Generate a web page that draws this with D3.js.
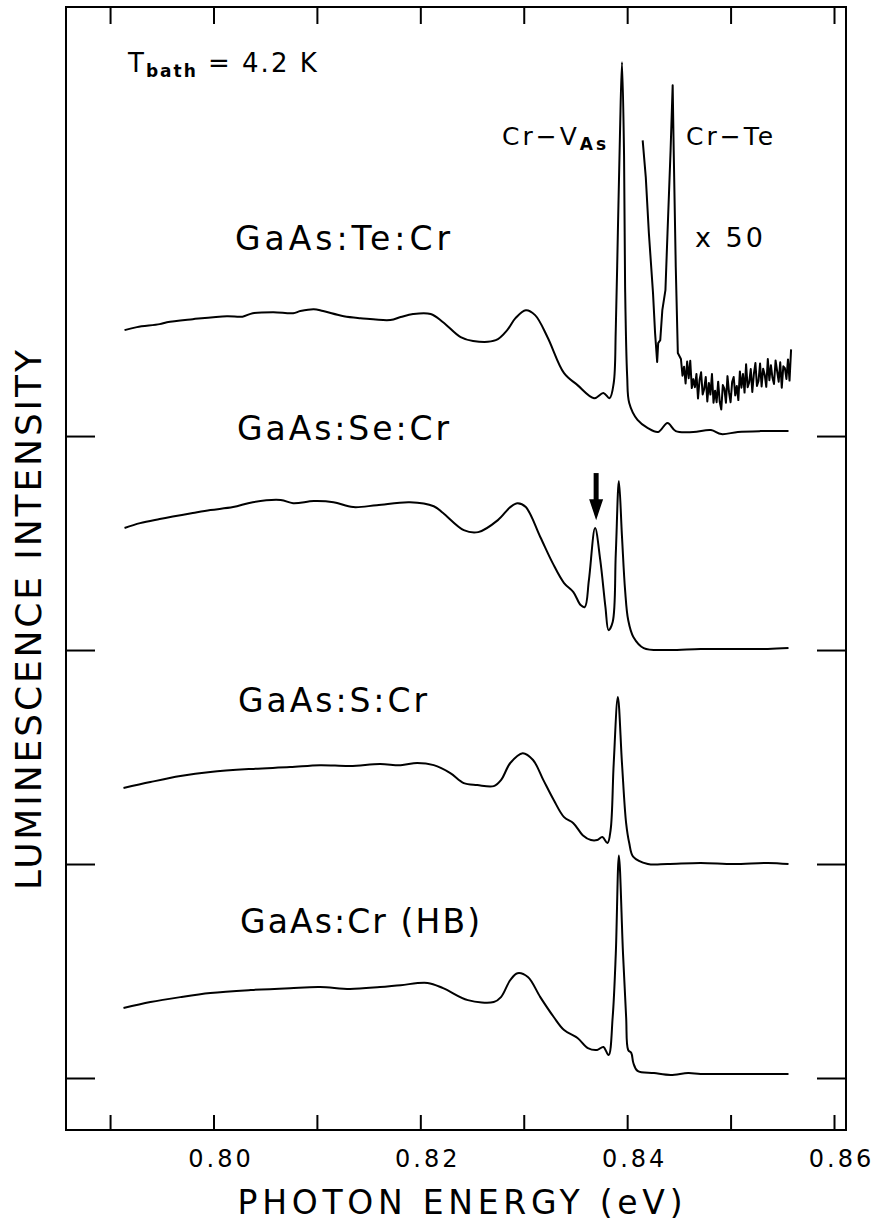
<!DOCTYPE html>
<html>
<head>
<meta charset="utf-8">
<script src="https://cdn.jsdelivr.net/npm/d3@7"></script>
<style>
  body { margin: 0; background: #fff; }
  svg { display: block; }
  text { font-family: "DejaVu Sans", sans-serif; fill: #000; }
  .curve { fill: none; stroke: #000; stroke-width: 2; stroke-linejoin: round; }
  .axis path.domain { display: none; }
  .axis line { stroke: #000; stroke-width: 2; }
  .axis text { font-size: 24px; letter-spacing: 3px; font-family: "DejaVu Sans", sans-serif; }
</style>
</head>
<body>
<svg id="chart"></svg>
<script>
const WIDTH = 880;
const HEIGHT = 1225;
const MARGIN = { top: 7, right: 34, bottom: 95, left: 66 };

// photon energy (eV) on x, luminescence in arb. units on y
const X_DOMAIN = [0.78574, 0.86116];
const Y_DOMAIN = [-24.3, 500.5];
const X_TICKS = [0.79, 0.80, 0.81, 0.82, 0.83, 0.84, 0.85, 0.86];
const X_TICK_LABELS = ['0.80', '0.82', '0.84', '0.86'];

// vertical offset of each spectrum (its zero line)
const SAMPLES = ['GaAs:Te:Cr', 'GaAs:Se:Cr', 'GaAs:S:Cr', 'GaAs:Cr (HB)'];
const OFFSETS = [300, 200, 100, 0];

// [energy eV, intensity a.u. above zero line]
const teData = [
  [0.7914, 49.5], [0.7926, 50.9], [0.7948, 52.3], [0.7955, 53.2], [0.7980, 54.6],
  [0.8013, 56.0], [0.8028, 55.8], [0.8038, 57.4], [0.8058, 57.9], [0.8077, 57.4],
  [0.8084, 58.4], [0.8097, 59.3], [0.8106, 58.4], [0.8126, 56.0], [0.8142, 55.1],
  [0.8171, 54.2], [0.8181, 55.6], [0.8193, 57.0], [0.8210, 57.0], [0.8222, 53.2],
  [0.8239, 46.2], [0.8251, 44.4], [0.8273, 44.8], [0.8284, 49.5], [0.8292, 55.1],
  [0.8302, 58.8], [0.8311, 56.5], [0.8323, 46.2], [0.8339, 29.4], [0.8352, 23.8],
  [0.8368, 17.7], [0.8377, 20.1], [0.8383, 17.7], [0.8387, 24.8], [0.8389, 50.0],
  [0.8391, 95.0], [0.8393, 140.0], [0.8395, 174.7], [0.8397, 131.0], [0.8398, 70.0],
  [0.8400, 28.0], [0.8402, 15.4], [0.8410, 7.5], [0.8420, 3.7], [0.8430, 1.9],
  [0.8439, 6.1], [0.8447, 2.3], [0.8464, 1.9], [0.8481, 2.8], [0.8491, 0.9],
  [0.8507, 1.9], [0.8529, 2.3], [0.8556, 2.3]
];

// Cr-Te region of the Te doped sample, magnified x 50
const teX50Data = [
  [0.8415, 138.2], [0.8418, 121.0], [0.8421, 94.8], [0.8425, 66.8], [0.8427, 48.1],
  [0.8429, 34.6], [0.8430, 43.4], [0.8432, 44.8], [0.8434, 58.8], [0.8437, 68.2],
  [0.8439, 94.8], [0.8442, 133.6], [0.8444, 163.9], [0.8445, 133.6], [0.8447, 78.9],
  [0.8449, 38.8], [0.84520, 36.0], [0.84535, 28.2], [0.84550, 32.4], [0.84565, 24.6],
  [0.84580, 34.8], [0.84595, 27.0], [0.84610, 35.2], [0.84625, 22.4], [0.84640, 26.6],
  [0.84655, 22.8], [0.84670, 29.0], [0.84685, 17.6], [0.84700, 26.2], [0.84715, 29.8],
  [0.84730, 19.4], [0.84745, 22.0], [0.84760, 27.6], [0.84775, 16.2], [0.84790, 24.8],
  [0.84805, 19.4], [0.84820, 29.0], [0.84835, 15.6], [0.84850, 21.2], [0.84865, 15.8],
  [0.84880, 25.4], [0.84895, 16.0], [0.84910, 12.4], [0.84925, 23.8], [0.84940, 22.2],
  [0.84955, 15.6], [0.84970, 28.0], [0.84985, 20.4], [0.85000, 15.8], [0.85015, 25.2],
  [0.85030, 27.6], [0.85045, 19.0], [0.85060, 23.4], [0.85075, 16.8], [0.85090, 30.2],
  [0.85105, 22.6], [0.85120, 29.0], [0.85135, 20.3], [0.85150, 33.5], [0.85165, 22.8],
  [0.85180, 25.1], [0.85195, 31.3], [0.85210, 20.6], [0.85225, 28.9], [0.85240, 34.1],
  [0.85255, 23.4], [0.85270, 25.7], [0.85285, 33.9], [0.85300, 23.2], [0.85315, 31.5],
  [0.85330, 28.7], [0.85345, 23.0], [0.85360, 36.0], [0.85375, 26.1], [0.85390, 33.1],
  [0.85405, 27.2], [0.85420, 24.3], [0.85435, 35.3], [0.85450, 30.4], [0.85465, 25.4],
  [0.85480, 34.5], [0.85495, 22.6], [0.85510, 32.6], [0.85525, 31.7], [0.85540, 26.7],
  [0.85555, 35.8], [0.85570, 25.9], [0.85585, 40.5]
];

const seData = [
  [0.7914, 57.0], [0.7929, 59.3], [0.7948, 61.2], [0.7980, 64.0], [0.7997, 65.4],
  [0.8019, 66.8], [0.8038, 69.1], [0.8065, 70.1], [0.8077, 68.6], [0.8097, 69.6],
  [0.8116, 69.1], [0.8135, 66.8], [0.8158, 67.7], [0.8190, 69.1], [0.8213, 67.2],
  [0.8222, 64.0], [0.8242, 56.0], [0.8256, 55.1], [0.8275, 60.7], [0.8287, 66.8],
  [0.8294, 68.6], [0.8302, 66.8], [0.8316, 52.8], [0.8328, 40.6], [0.8339, 31.3],
  [0.8348, 27.1], [0.8355, 21.0], [0.8359, 20.1], [0.8363, 32.7], [0.8369, 57.0],
  [0.8374, 42.0], [0.8379, 20.1], [0.8382, 9.3], [0.8386, 13.1], [0.8389, 45.0],
  [0.8392, 79.0], [0.8395, 53.0], [0.8398, 28.0], [0.8401, 14.0], [0.8406, 6.1],
  [0.8416, 0.9], [0.8439, 0.0], [0.8471, 0.5], [0.8503, 0.5], [0.8536, 0.5],
  [0.8556, 0.9]
];

const sData = [
  [0.7913, 35.5], [0.7939, 38.3], [0.7968, 41.1], [0.7997, 43.0], [0.8036, 44.4],
  [0.8074, 45.3], [0.8103, 46.2], [0.8132, 45.8], [0.8161, 46.7], [0.8181, 46.2],
  [0.8197, 47.2], [0.8213, 46.2], [0.8229, 42.5], [0.8242, 37.8], [0.8255, 36.9],
  [0.8271, 36.4], [0.8278, 39.2], [0.8287, 47.2], [0.8299, 51.8], [0.8309, 48.6],
  [0.8319, 39.2], [0.8329, 29.9], [0.8339, 21.9], [0.8348, 19.1], [0.8357, 13.5],
  [0.8365, 11.2], [0.8371, 11.2], [0.8376, 12.6], [0.8381, 9.8], [0.8384, 15.9],
  [0.8387, 47.0], [0.8391, 78.0], [0.8395, 47.0], [0.8399, 19.1], [0.8402, 9.8],
  [0.8406, 3.3], [0.8420, 0.0], [0.8439, 0.0], [0.8471, 0.5], [0.8503, 0.0],
  [0.8536, 0.5], [0.8556, 0.0]
];

const hbData = [
  [0.7913, 32.7], [0.7939, 35.5], [0.7968, 37.8], [0.7997, 39.7], [0.8036, 41.1],
  [0.8074, 42.0], [0.8103, 42.5], [0.8132, 41.6], [0.8161, 42.5], [0.8181, 43.4],
  [0.8207, 44.4], [0.8222, 42.0], [0.8246, 36.4], [0.8271, 35.5], [0.8278, 37.8],
  [0.8287, 45.8], [0.8294, 49.0], [0.8304, 47.2], [0.8316, 37.8], [0.8329, 28.5],
  [0.8339, 22.4], [0.8352, 18.7], [0.8362, 14.0], [0.8371, 13.1], [0.8377, 14.5],
  [0.8382, 10.7], [0.8386, 28.5], [0.8389, 58.0], [0.8392, 104.0], [0.8396, 58.0],
  [0.8399, 28.5], [0.8401, 13.1], [0.8404, 11.7], [0.8406, 7.0], [0.8410, 3.3],
  [0.8426, 2.3], [0.8442, 1.4], [0.8459, 2.3], [0.8471, 1.9], [0.8503, 1.9],
  [0.8536, 1.9], [0.8556, 1.9]
];

// arrow over the extra Se line: energy, tail and tip heights above the Se zero line
const ARROW = { energy: 0.8370, tail: 82.7, tip: 60.7 };

const width = WIDTH - MARGIN.left - MARGIN.right;
const height = HEIGHT - MARGIN.top - MARGIN.bottom;

const $svg = d3.select('#chart').attr('width', WIDTH).attr('height', HEIGHT);
const $g = $svg.append('g').attr('transform', `translate(${MARGIN.left},${MARGIN.top})`);

const x = d3.scaleLinear().domain(X_DOMAIN).range([0, width]);
const y = d3.scaleLinear().domain(Y_DOMAIN).range([height, 0]);

// AXES
$g.append('g')
  .attr('class', 'axis')
  .attr('transform', `translate(0,${height})`)
  .call(d3.axisBottom(x)
    .tickValues(X_TICKS)
    .tickSize(-15)
    .tickPadding(20)
    .tickFormat(d => {
      const s = d3.format('.2f')(d);
      return X_TICK_LABELS.includes(s) ? s : '';
    }))
  .selectAll('text')
  .attr('dx', 7);

$g.append('g')
  .attr('class', 'axis')
  .call(d3.axisTop(x).tickValues(X_TICKS).tickSize(-17).tickFormat(''));

$g.append('g')
  .attr('class', 'axis')
  .call(d3.axisLeft(y).tickValues(OFFSETS).tickSize(-29).tickFormat(''));

$g.append('g')
  .attr('class', 'axis')
  .attr('transform', `translate(${width},0)`)
  .call(d3.axisRight(y).tickValues(OFFSETS).tickSize(-29).tickFormat(''));

$g.append('rect')
  .attr('width', width)
  .attr('height', height)
  .attr('fill', 'none')
  .attr('stroke', '#000')
  .attr('stroke-width', 2);

// SPECTRA
function lineFor(offset, curve) {
  return d3.line()
    .x(d => x(d[0]))
    .y(d => y(d[1] + offset))
    .curve(curve);
}

const smooth = d3.curveCatmullRom.alpha(0.5);
const spectra = [teData, seData, sData, hbData];

spectra.forEach((data, i) => {
  $g.append('path')
    .attr('class', 'curve')
    .attr('d', lineFor(OFFSETS[i], smooth)(data));
});

$g.append('path')
  .attr('class', 'curve')
  .attr('stroke-width', 2.2)
  .attr('d', lineFor(OFFSETS[0], d3.curveLinear)(teX50Data));

// arrow
const ax = x(ARROW.energy);
const tipY = y(OFFSETS[1] + ARROW.tip);
const tailY = y(OFFSETS[1] + ARROW.tail);
const HEAD = 21;
$g.append('line')
  .attr('x1', ax).attr('x2', ax)
  .attr('y1', tailY).attr('y2', tipY - HEAD + 2)
  .attr('stroke', '#000')
  .attr('stroke-width', 5);
$g.append('path')
  .attr('d', `M${ax - 7},${tipY - HEAD}L${ax + 7},${tipY - HEAD}L${ax},${tipY}Z`)
  .attr('fill', '#000');

// LABELS
const sampleLabelPos = [
  { x: 235, y: 250, len: 215 },
  { x: 237, y: 440, len: 212 },
  { x: 238, y: 712, len: 189 },
  { x: 240, y: 933, len: 240 }
];

$svg.selectAll('text.sample')
  .data(SAMPLES)
  .enter()
  .append('text')
  .attr('class', 'sample')
  .attr('x', (d, i) => sampleLabelPos[i].x)
  .attr('y', (d, i) => sampleLabelPos[i].y)
  .attr('font-size', 33)
  .attr('textLength', (d, i) => sampleLabelPos[i].len)
  .attr('lengthAdjust', 'spacing')
  .text(d => d);

// T bath
const $tb = $svg.append('text')
  .attr('x', 128)
  .attr('y', 72)
  .attr('font-size', 26)
  .attr('letter-spacing', 2);
$tb.append('tspan').text('T');
$tb.append('tspan').attr('font-size', 17).attr('font-weight', 'bold').attr('dy', 5).text('bath');
$tb.append('tspan').attr('dy', -5).text(' = 4.2 K');

// Cr-VAs
const $cv = $svg.append('text')
  .attr('x', 502)
  .attr('y', 145)
  .attr('font-size', 25)
  .attr('letter-spacing', 3);
$cv.append('tspan').text('Cr\u2212V');
$cv.append('tspan').attr('font-size', 17).attr('font-weight', 'bold').attr('dy', 5).text('As');

$svg.append('text')
  .attr('x', 686)
  .attr('y', 145)
  .attr('font-size', 25)
  .attr('letter-spacing', 3)
  .text('Cr\u2212Te');

$svg.append('text')
  .attr('x', 695)
  .attr('y', 247)
  .attr('font-size', 27)
  .attr('letter-spacing', 3)
  .text('x 50');

// axis titles
$svg.append('text')
  .attr('x', 460)
  .attr('y', 1214)
  .attr('text-anchor', 'middle')
  .attr('font-size', 33)
  .attr('textLength', 445)
  .attr('lengthAdjust', 'spacing')
  .text('PHOTON  ENERGY  (eV)');

$svg.append('text')
  .attr('transform', 'translate(41,620) rotate(-90)')
  .attr('text-anchor', 'middle')
  .attr('font-size', 36)
  .attr('textLength', 540)
  .attr('lengthAdjust', 'spacing')
  .text('LUMINESCENCE  INTENSITY');
</script>
</body>
</html>
